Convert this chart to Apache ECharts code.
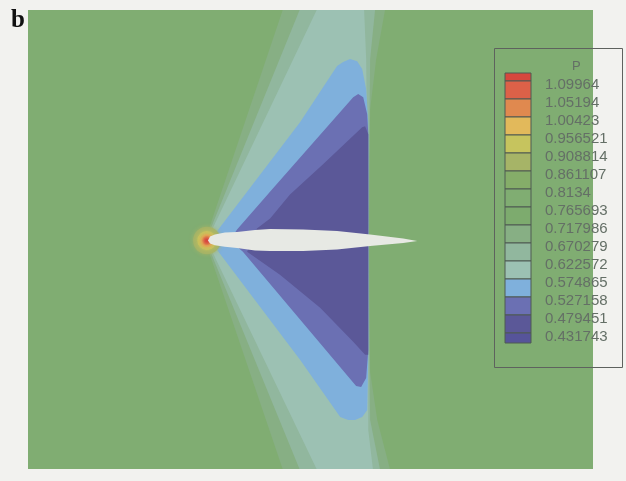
<!DOCTYPE html>
<html>
<head>
<meta charset="utf-8">
<script src="https://cdn.jsdelivr.net/npm/echarts@6/dist/echarts.min.js"></script>
<style>
  html, body { margin: 0; padding: 0; background: #f2f2ef; }
  #chart { width: 626px; height: 481px; }
</style>
</head>
<body>
<div id="chart"></div>
<script>
// Pressure contour levels shown in the colour bar (top to bottom)
const levels = [1.09964, 1.05194, 1.00423, 0.956521, 0.908814, 0.861107, 0.8134,
                0.765693, 0.717986, 0.670279, 0.622572, 0.574865, 0.527158, 0.479451, 0.431743];
const levelLabels = ['1.09964', '1.05194', '1.00423', '0.956521', '0.908814', '0.861107', '0.8134',
                     '0.765693', '0.717986', '0.670279', '0.622572', '0.574865', '0.527158', '0.479451', '0.431743'];
// Fill colour of each band, from above the first level down to below the last
const bandColors = ['#d6473d', '#dc6148', '#e0894f', '#e2b95b', '#c6c45e', '#a6b467', '#85ad69', '#80ad72',
                    '#7dab6e', '#87af84', '#91b79e', '#9cc1b3', '#7fb0dc', '#6b70b3', '#5b5898', '#56549a'];
// Lower and upper end of the colour-bar scale
const barRange = [0.40524, 1.12084];

// Free-stream pressure band (fills the field)
const freestreamBand = 7;

// Iso-pressure regions of the expansion fan, x and y in chords (leading edge at 0,0)
const fanBelow0718 = [[-0.014,0],[0.359,1.105],[0.847,1.105],[0.804,0.866],[0.775,0.627],[0.770,0],
                      [0.775,-0.627],[0.809,-0.856],[0.871,-1.096],[0.359,-1.096]];
const fanBelow0670 = [[-0.010,0],[0.440,1.105],[0.799,1.105],[0.775,0.866],[0.766,0],
                      [0.775,-0.856],[0.823,-1.096],[0.440,-1.096]];
const fanBelow0623 = [[-0.005,0],[0.522,1.105],[0.746,1.105],[0.756,0.866],[0.766,0],
                      [0.766,-0.904],[0.789,-1.096],[0.522,-1.096]];
const fanBelow0575 = [[0.010,0],[0.024,0.019],[0.440,0.565],[0.617,0.833],[0.646,0.852],[0.679,0.866],
                      [0.713,0.856],[0.737,0.818],[0.756,0.722],[0.766,0.565],[0.766,0],[0.766,-0.569],
                      [0.761,-0.809],[0.737,-0.842],[0.703,-0.856],[0.670,-0.856],[0.632,-0.842],
                      [0.440,-0.569],[0.024,-0.019]];
const fanBelow0527 = [[0.105,0],[0.139,0.053],[0.306,0.244],[0.694,0.684],[0.718,0.699],[0.742,0.684],
                      [0.761,0.603],[0.766,0.507],[0.766,0],[0.766,-0.522],[0.756,-0.656],[0.732,-0.699],
                      [0.708,-0.694],[0.167,-0.053]];
const fanBelow0479 = [[0.211,0],[0.234,0.057],[0.297,0.105],[0.392,0.220],[0.550,0.364],[0.737,0.541],
                      [0.751,0.545],[0.766,0.507],[0.766,0],[0.766,-0.545],[0.751,-0.545],[0.694,-0.483],
                      [0.536,-0.321],[0.344,-0.163],[0.187,-0.053]];
const fanRegions = [fanBelow0718, fanBelow0670, fanBelow0623, fanBelow0575, fanBelow0527, fanBelow0479];
const fanBands = [9, 10, 11, 12, 13, 14];

// Stagnation zone at the nose: band, centre and radius in chords
const noseBands  = [5, 4, 3, 2, 1, 0];
const noseCentre = [-0.005, 0];
const noseRadius = [0.066, 0.046, 0.031, 0.021, 0.015, 0.009];

// Aerofoil outline, chords
const aerofoil = [[0,0],[0.010,0.019],[0.033,0.029],[0.081,0.038],[0.139,0.041],[0.225,0.050],
                  [0.297,0.055],[0.455,0.053],[0.617,0.045],[0.775,0.029],[0.933,0.010],[1.000,-0.002],
                  [0.933,-0.012],[0.775,-0.026],[0.617,-0.043],[0.455,-0.050],[0.297,-0.050],
                  [0.225,-0.048],[0.139,-0.036],[0.081,-0.029],[0.033,-0.022],[0.010,-0.014]];

const chart = echarts.init(document.getElementById('chart'), null, { renderer: 'canvas' });

const labelColor = '#646f66';

function polygonItem(api, pts, fill) {
  return { type: 'polygon', shape: { points: pts.map(p => api.coord(p)) }, style: { fill: fill } };
}

const option = {
  backgroundColor: '#f2f2ef',
  animation: false,
  title: {
    text: 'b', left: 6, top: 3,
    textStyle: { fontFamily: 'Liberation Serif', fontWeight: 'bold', fontSize: 25, color: '#111' }
  },
  grid: [
    { left: 28, top: 10, width: 565, height: 459, show: true, backgroundColor: bandColors[freestreamBand],
      borderWidth: 0 },
    { left: 505, top: 73, width: 26, height: 270 }
  ],
  xAxis: [
    { gridIndex: 0, type: 'value', min: -0.86, max: 1.84, show: false },
    { gridIndex: 1, type: 'value', min: 0, max: 1, show: false }
  ],
  yAxis: [
    { gridIndex: 0, type: 'value', min: -1.09, max: 1.10, show: false },
    { gridIndex: 1, type: 'value', min: barRange[0], max: barRange[1], show: false }
  ],
  graphic: [
    { type: 'rect', shape: { x: 494.5, y: 48.5, width: 128, height: 319 },
      style: { fill: 'none', stroke: '#5e625e', lineWidth: 1 }, z: 10 },
    { type: 'text', x: 572, y: 60, style: { text: 'P', fontSize: 13, fill: labelColor,
      fontFamily: 'Liberation Sans' }, z: 10 }
  ],
  series: [
    {
      type: 'custom', xAxisIndex: 0, yAxisIndex: 0, clip: true,
      data: fanRegions.map((r, i) => [i]),
      renderItem: (params, api) => polygonItem(api, fanRegions[params.dataIndex],
                                                bandColors[fanBands[params.dataIndex]])
    },
    {
      type: 'custom', xAxisIndex: 0, yAxisIndex: 0, clip: true,
      data: noseBands.map((b, i) => [i]),
      renderItem: (params, api) => {
        const i = params.dataIndex;
        const c = api.coord(noseCentre);
        const r = api.size([noseRadius[i], 0])[0];
        return { type: 'circle', shape: { cx: c[0], cy: c[1], r: r },
                 style: { fill: bandColors[noseBands[i]], shadowBlur: 4,
                          shadowColor: bandColors[noseBands[i]], opacity: 0.9 } };
      }
    },
    {
      type: 'custom', xAxisIndex: 0, yAxisIndex: 0, clip: true,
      data: [[0]],
      renderItem: (params, api) => polygonItem(api, aerofoil, '#e7e9e4')
    },
    {
      // colour bar bands
      type: 'custom', xAxisIndex: 1, yAxisIndex: 1,
      data: bandColors.map((c, i) => [i]),
      renderItem: (params, api) => {
        const i = params.dataIndex;
        const hi = i === 0 ? barRange[1] : levels[i - 1];
        const lo = i === levels.length ? barRange[0] : levels[i];
        const p0 = api.coord([0, hi]);
        const p1 = api.coord([1, lo]);
        return { type: 'rect', shape: { x: p0[0], y: p0[1], width: p1[0] - p0[0], height: p1[1] - p0[1] },
                 style: { fill: bandColors[i], stroke: '#4f5a52', lineWidth: 1 } };
      }
    },
    {
      // colour bar level labels
      type: 'custom', xAxisIndex: 1, yAxisIndex: 1,
      data: levels.map(v => [1, v]),
      renderItem: (params, api) => {
        const p = api.coord([api.value(0), api.value(1)]);
        return { type: 'text', x: p[0] + 14, y: p[1] + 4,
                 style: { text: levelLabels[params.dataIndex], fontSize: 15, fill: labelColor,
                          fontFamily: 'Liberation Sans', align: 'left', verticalAlign: 'middle' } };
      }
    }
  ]
};
chart.setOption(option);
</script>
</body>
</html>
